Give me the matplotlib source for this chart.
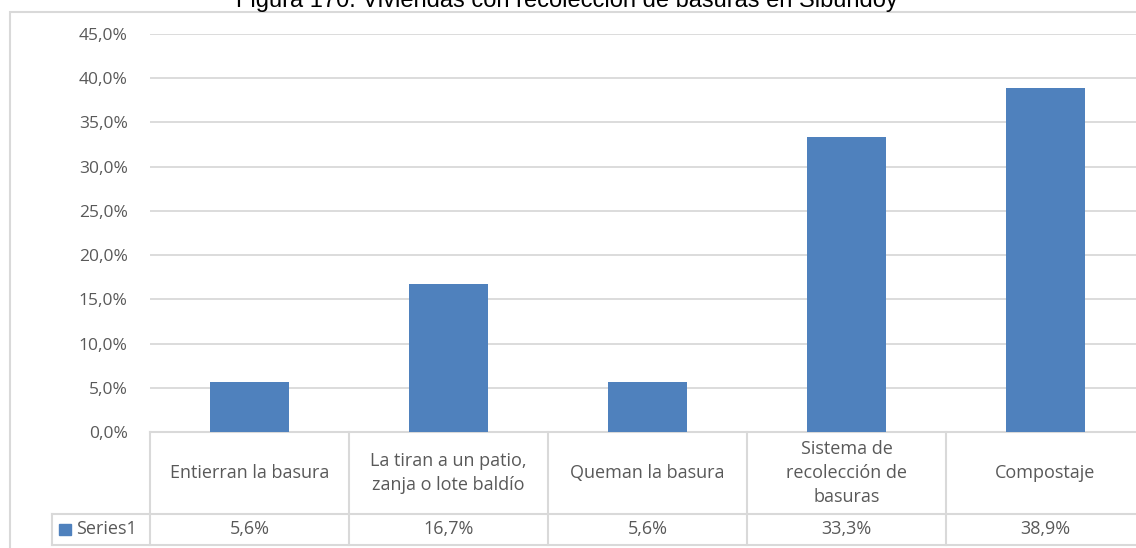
import matplotlib.pyplot as plt
from matplotlib.patches import Rectangle
from matplotlib.lines import Line2D

categorias = ["Entierran la basura", "La tiran a un patio,\nzanja o lote baldío",
              "Queman la basura", "Sistema de\nrecolección de\nbasuras", "Compostaje"]
valores = [0.056, 0.167, 0.056, 0.333, 0.389]
etiquetas = ["5,6%", "16,7%", "5,6%", "33,3%", "38,9%"]
serie = "Series1"
titulo = "Figura 170. Viviendas con recolección de basuras en Sibundoy"

W, H = 1136, 548
azul = "#4F81BD"
gris_txt = "#595959"
gris_lin = "#D9D9D9"
fuente = "Open Sans"

fig = plt.figure(figsize=(W / 100, H / 100), dpi=100)

# ejes: x de 150 a 1145 px, y de 34 a 432 px
x0, x1, ytop, ybot = 150, 1145, 34, 432
ax = fig.add_axes([x0 / W, 1 - ybot / H, (x1 - x0) / W, (ybot - ytop) / H])
n = len(valores)
ax.bar(range(n), valores, width=0.4, color=azul, zorder=3)
ax.set_xlim(-0.5, n - 0.5)
ax.set_ylim(0, 0.45)
ticks = [i * 0.05 for i in range(10)]
ax.set_yticks(ticks)
ax.set_yticklabels([f"{t*100:.1f}%".replace(".", ",") for t in ticks],
                   fontsize=12.5, color=gris_txt, family=fuente)
ax.tick_params(axis="y", length=0, pad=16)
ax.set_xticks([])
ax.grid(axis="y", color=gris_lin, linewidth=1.3, zorder=0)
for s in ax.spines.values():
    s.set_visible(False)

# tabla de datos
tr = ax.get_xaxis_transform()
h_ax = ybot - ytop
def fy(py):
    return (ybot - py) / h_ax
y_fila = fy(514)
y_fin = fy(545)
x_leg = -0.5 - 98 / 199.0
kw = dict(color=gris_lin, linewidth=1.5, transform=tr, clip_on=False)
ax.add_line(Line2D([-0.5, n - 0.5], [0, 0], **kw))
ax.add_line(Line2D([x_leg, n - 0.5], [y_fila, y_fila], **kw))
ax.add_line(Line2D([x_leg, n - 0.5], [y_fin, y_fin], **kw))
ax.add_line(Line2D([x_leg, x_leg], [y_fila, y_fin], **kw))
for i in range(n + 1):
    ax.add_line(Line2D([i - 0.5, i - 0.5], [0, y_fin], **kw))

for i, (c, e) in enumerate(zip(categorias, etiquetas)):
    ax.text(i, (0 + y_fila) / 2, c, transform=tr, ha="center", va="center",
            fontsize=13, color=gris_txt, family=fuente, linespacing=1.4)
    ax.text(i, (y_fila + y_fin) / 2, e, transform=tr, ha="center", va="center",
            fontsize=13, color=gris_txt, family=fuente)

# leyenda en la tabla
ax.add_patch(Rectangle((x_leg + 7 / 199.0, fy(535)), 12 / 199.0, fy(524) - fy(535),
                       transform=tr, color=azul, clip_on=False))
ax.text(x_leg + 24 / 199.0, (y_fila + y_fin) / 2, serie, transform=tr, ha="left",
        va="center", fontsize=13, color=gris_txt, family=fuente)

# borde del grafico
fig.patches.append(Rectangle((10 / W, -0.1), 1.2, 1 - 12 / H + 0.1,
                             transform=fig.transFigure, fill=False,
                             edgecolor=gris_lin, linewidth=1.5))

fig.text(567 / W, 1 - 7 / H, titulo, ha="center", va="baseline",
         fontsize=17, family="Liberation Sans", color="black")

fig.savefig("out.png", dpi=100)
